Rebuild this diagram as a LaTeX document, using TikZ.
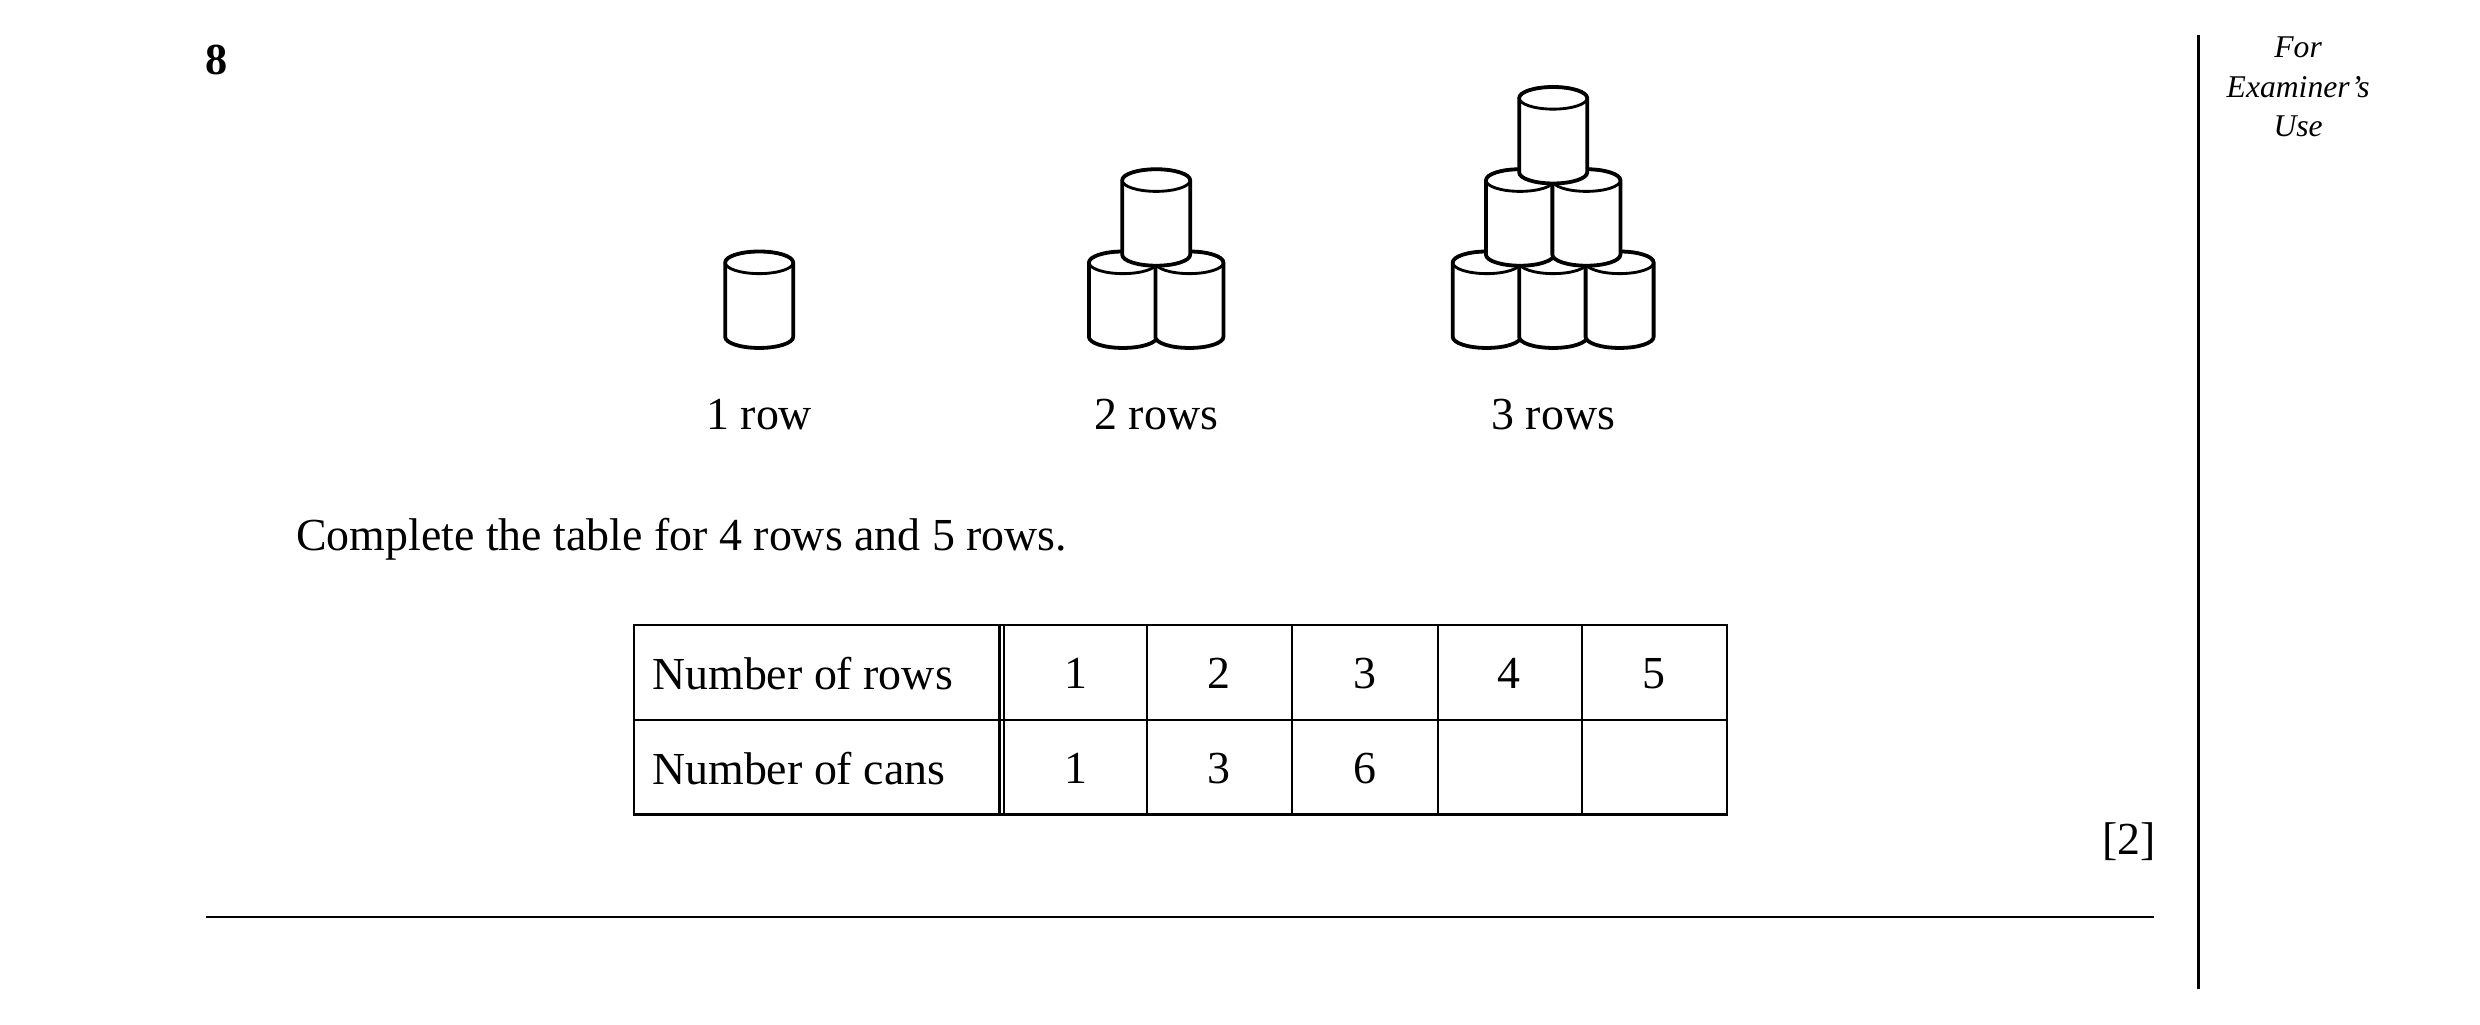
\documentclass[tikz,border=0pt]{standalone}
\usepackage{fontspec}
\setmainfont{Liberation Serif}
\usetikzlibrary{positioning}
\tikzset{
  can/.style={line width=1.2pt,fill=white},
  txt/.style={inner sep=0pt,font=\fontsize{14.5}{16}\selectfont},
  cell/.style={inner sep=0pt,font=\fontsize{14.5}{16}\selectfont}
}
% can with centre x and top ellipse centre y
\newcommand{\tin}[2]{%
  \draw[can] (#1-21.5,#2) -- (#1-21.5,#2+47) arc[start angle=180,end angle=0,x radius=21.5,y radius=7]
    -- (#1+21.5,#2) arc[start angle=0,end angle=-180,x radius=21.5,y radius=7] -- cycle;
  \draw[line width=0.9pt] (#1,#2) ellipse[x radius=21.5,y radius=7];}
\begin{document}
\begin{tikzpicture}[x=0.5pt,y=-0.5pt]
\useasboundingbox (0,0) rectangle (1568,648);

%question number and margin
\node[font=\fontsize{14}{16}\selectfont\bfseries] (qnum) at (137,38) {8};
\draw[line width=0.7pt] (1390,22) -- (1390,625);
\node[align=center,font=\fontsize{10}{12.5}\selectfont\itshape] (exam) at (1453,55) {For\\Examiner's\\Use};

%cans
\tin{480}{166}
\node[txt] (r1) at (480,262) {1 row};
\tin{710}{166} \tin{752}{166} \tin{731}{114}
\node[txt] (r2) at (731,262) {2 rows};
\tin{940}{166} \tin{982}{166} \tin{1024}{166}
\tin{961}{114} \tin{1003}{114}
\tin{982}{62}
\node[txt] (r3) at (982,262) {3 rows};

\node[txt,anchor=west] (instr) at (187,341) {Complete the table for 4 rows and 5 rows.};

%table
\draw[line width=0.7pt] (401,395) rectangle (1092,515);
\draw[line width=0.7pt] (401,455) -- (1092,455);
\foreach \cx in {632,635,725,817,909,1000}
  \draw[line width=0.7pt] (\cx,395) -- (\cx,515);
\node[cell,anchor=west] (hrows) at (412,426) {Number of rows};
\node[cell,anchor=west] (hcans) at (412,486) {Number of cans};
\foreach \cx/\n in {680/1,771/2,863/3,954/4,1046/5}
  \node[cell] (n\n) at (\cx,426) {\n};
\foreach \cx/\v/\k in {680/1/a,771/3/b,863/6/c}
  \node[cell] (c\k) at (\cx,486) {\v};

\node[txt] (marks) at (1346,532) {[2]};
\draw[line width=0.7pt] (130,580) -- (1362,580);
\end{tikzpicture}
\end{document}
